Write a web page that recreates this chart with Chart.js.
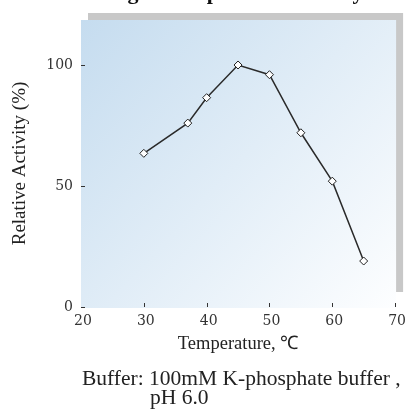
<!DOCTYPE html>
<html><head><meta charset="utf-8">
<script src="https://cdn.jsdelivr.net/npm/chart.js@4"></script>
<style>html,body{margin:0;padding:0;background:#fff;overflow:hidden}canvas{display:block}</style>
</head><body>
<canvas id="c" width="410" height="413"></canvas>
<script>
const temperatures = [30, 37, 40, 45, 50, 55, 60, 65];
const activity = [63.5, 76, 86.5, 100, 96, 72, 52, 19];
const xTicks = [20, 30, 40, 50, 60, 70];
const yTicks = [0, 50, 100];
const chartTitle = 'Fig. 2 Temperature activity';
const xTitle = 'Temperature, \u2103';
const yTitle = 'Relative Activity (%)';
const captionLines = ['Buffer: 100mM K-phosphate buffer ,', 'pH 6.0'];

const points = temperatures.map((t, i) => ({x: t, y: activity[i]}));

const decor = {
  id: 'decor',
  beforeDraw(chart) {
    const {ctx, chartArea: a} = chart;
    ctx.save();
    ctx.fillStyle = '#c8c8c8';
    ctx.fillRect(a.left + 7, a.top - 7, a.right - a.left + 1, a.bottom - a.top - 8);
    const g = ctx.createLinearGradient(a.left, a.top, a.right, a.bottom);
    g.addColorStop(0, '#c5dcef');
    g.addColorStop(1, '#fdfeff');
    ctx.fillStyle = g;
    ctx.fillRect(a.left, a.top, a.right - a.left + 1, a.bottom - a.top + 1);
    ctx.restore();
  },
  beforeDatasetsDraw(chart) {
    const {ctx, chartArea: a, scales} = chart;
    ctx.save();
    ctx.strokeStyle = '#333';
    ctx.lineWidth = 1;
    ctx.beginPath();
    scales.x.ticks.forEach(t => {
      if (t.value === scales.x.min) return;
      const px = Math.round(scales.x.getPixelForValue(t.value)) + 0.5;
      ctx.moveTo(px, a.bottom - 4);
      ctx.lineTo(px, a.bottom);
    });
    scales.y.ticks.forEach(t => {
      const py = Math.round(scales.y.getPixelForValue(t.value)) + 0.5;
      ctx.moveTo(a.left, py);
      ctx.lineTo(a.left + 4, py);
    });
    ctx.stroke();
    ctx.restore();
  },
  afterDraw(chart) {
    const {ctx} = chart;
    ctx.save();
    ctx.fillStyle = '#111';
    ctx.textBaseline = 'alphabetic';
    ctx.textAlign = 'left';
    ctx.font = 'bold 22px "Liberation Serif"';
    ctx.fillText(chartTitle, 108, -1);
    ctx.fillStyle = '#222';
    ctx.font = '21.5px "Liberation Serif"';
    ctx.fillText(captionLines[0], 82, 385);
    ctx.fillText(captionLines[1], 150, 404);
    ctx.restore();
  }
};

new Chart(document.getElementById('c'), {
  type: 'line',
  data: {
    datasets: [{
      data: points,
      borderColor: '#2a2a2a',
      borderWidth: 1.5,
      pointStyle: 'rectRot',
      pointRadius: 4,
      pointBackgroundColor: '#fff',
      pointBorderColor: '#222',
      pointBorderWidth: 1,
      tension: 0,
      fill: false
    }]
  },
  options: {
    responsive: false,
    animation: false,
    devicePixelRatio: 1,
    layout: {padding: {left: 0, right: 13, top: 20, bottom: 58}},
    plugins: {legend: {display: false}, tooltip: {enabled: false}, title: {display: false}},
    scales: {
      x: {
        type: 'linear',
        min: 20, max: 70,
        afterFit(s) { s.height = 48; },
        afterBuildTicks(s) { s.ticks = xTicks.map(v => ({value: v})); },
        grid: {display: false, drawTicks: false},
        border: {display: false},
        ticks: {padding: 6, labelOffset: 2, font: {family: 'DejaVu Serif', size: 14}, color: '#333'},
        title: {display: true, text: xTitle, font: {family: 'Liberation Serif', size: 18.5}, color: '#222', padding: {top: 0, bottom: 0}}
      },
      y: {
        min: 0, max: 118.6,
        afterFit(s) { s.width = 81; },
        afterBuildTicks(s) { s.ticks = yTicks.map(v => ({value: v})); },
        grid: {display: false, drawTicks: false},
        border: {display: false},
        ticks: {padding: 8, font: {family: 'DejaVu Serif', size: 14}, color: '#333'},
        title: {display: true, text: yTitle, font: {family: 'Liberation Serif', size: 19}, color: '#222', padding: {top: 9, bottom: 0}}
      }
    }
  },
  plugins: [decor]
});
</script>
</body></html>
